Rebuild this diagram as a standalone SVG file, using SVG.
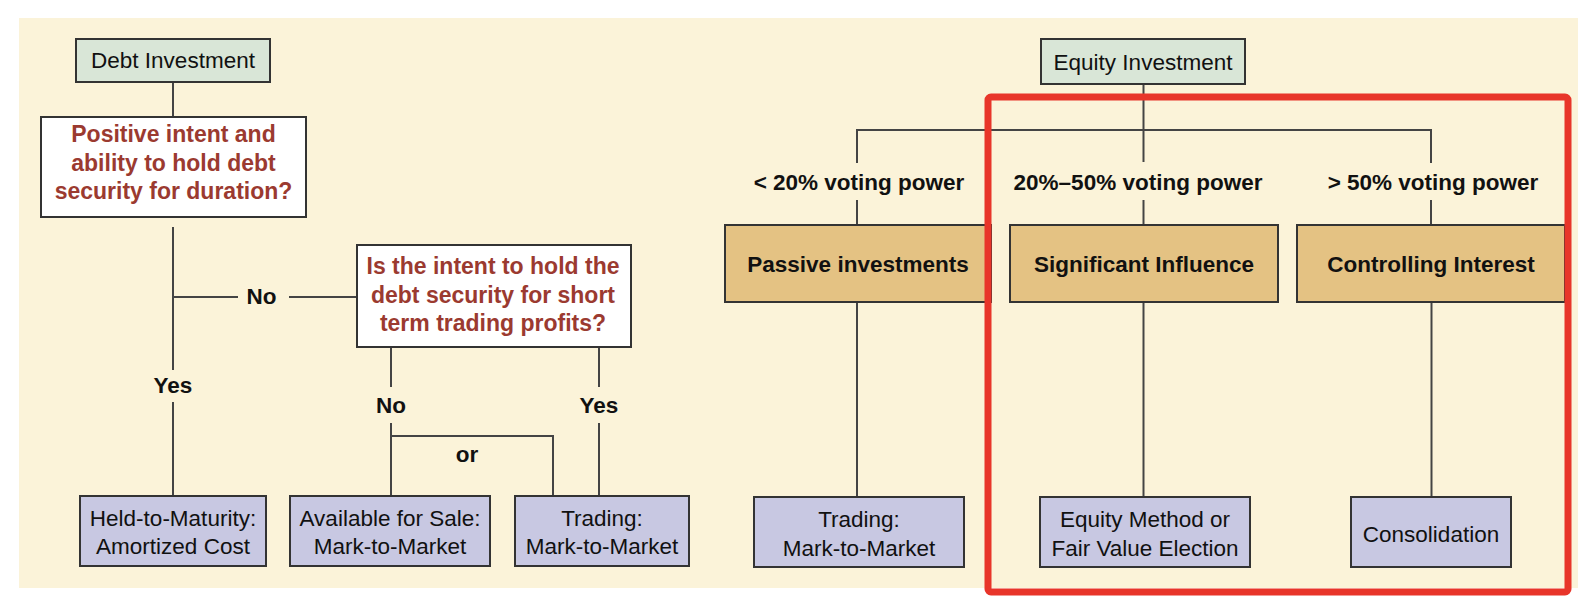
<svg xmlns="http://www.w3.org/2000/svg" width="1584" height="614" viewBox="0 0 1584 614">
<style>
.bg{fill:#fbf3d9}
.box{stroke:#333;stroke-width:2}
.green{fill:#d9e6d7}
.white{fill:#ffffff}
.lav{fill:#c8c8e2}
.tan{fill:#e4c283}
.t{font-family:"Liberation Sans",Arial,sans-serif;font-size:22.5px;fill:#111;text-anchor:middle}
.b{font-weight:bold}
.q{font-family:"Liberation Sans",Arial,sans-serif;font-size:23px;font-weight:bold;fill:#9b3a30;text-anchor:middle}
.ln{stroke:#444;stroke-width:2;fill:none}
</style>
<rect class="bg" x="19" y="18" width="1559" height="570"/>
<g id="connectors">
<line class="ln" x1="173" y1="82" x2="173" y2="117"/>
<line class="ln" x1="173" y1="227" x2="173" y2="370"/>
<line class="ln" x1="173" y1="402" x2="173" y2="496"/>
<line class="ln" x1="173" y1="297" x2="238" y2="297"/>
<line class="ln" x1="289" y1="297" x2="357" y2="297"/>
<line class="ln" x1="391" y1="347" x2="391" y2="387"/>
<line class="ln" x1="391" y1="423" x2="391" y2="496"/>
<line class="ln" x1="599" y1="347" x2="599" y2="387"/>
<line class="ln" x1="599" y1="423" x2="599" y2="496"/>
<polyline class="ln" stroke-width="2.5" points="391,436 553,436 553,496"/>
<line class="ln" x1="1143.5" y1="84" x2="1143.5" y2="162"/>
<polyline class="ln" points="857,163 857,130 1431,130 1431,163"/>
<line class="ln" x1="857" y1="200" x2="857" y2="225"/>
<line class="ln" x1="1143.5" y1="200" x2="1143.5" y2="225"/>
<line class="ln" x1="1431" y1="200" x2="1431" y2="225"/>
<line class="ln" x1="857" y1="302" x2="857" y2="497"/>
<line class="ln" x1="1143.5" y1="302" x2="1143.5" y2="497"/>
<line class="ln" x1="1431.5" y1="302" x2="1431.5" y2="497"/>
</g>
<g id="edge-labels">
<text class="t b" x="261.5" y="304">No</text>
<text class="t b" x="173" y="393">Yes</text>
<text class="t b" x="391" y="413">No</text>
<text class="t b" x="599" y="413">Yes</text>
<text class="t b" x="467" y="462">or</text>
<text class="t b" x="859" y="190">&lt; 20% voting power</text>
<text class="t b" x="1138" y="189.5">20%–50% voting power</text>
<text class="t b" x="1433" y="189.5">&gt; 50% voting power</text>
</g>
<g id="debt-investment">
<rect class="box green" x="76" y="39" width="194" height="43"/>
<text class="t" x="173" y="68">Debt Investment</text>
</g>
<g id="question-hold-duration">
<rect class="box white" x="41" y="117" width="265" height="100"/>
<text class="q" x="173.5" y="142">Positive intent and</text>
<text class="q" x="173.5" y="170.5">ability to hold debt</text>
<text class="q" x="173.5" y="199">security for duration?</text>
</g>
<g id="question-short-term">
<rect class="box white" x="357" y="245" width="274" height="102"/>
<text class="q" x="493" y="274">Is the intent to hold the</text>
<text class="q" x="493" y="302.5">debt security for short</text>
<text class="q" x="493" y="331">term trading profits?</text>
</g>
<g id="held-to-maturity">
<rect class="box lav" x="80" y="496" width="186" height="70"/>
<text class="t" x="173" y="526">Held-to-Maturity:</text>
<text class="t" x="173" y="554">Amortized Cost</text>
</g>
<g id="available-for-sale">
<rect class="box lav" x="290" y="496" width="200" height="70"/>
<text class="t" x="390" y="526">Available for Sale:</text>
<text class="t" x="390" y="554">Mark-to-Market</text>
</g>
<g id="trading-debt">
<rect class="box lav" x="515" y="496" width="174" height="70"/>
<text class="t" x="602" y="526">Trading:</text>
<text class="t" x="602" y="554">Mark-to-Market</text>
</g>
<g id="equity-investment">
<rect class="box green" x="1041" y="39" width="204" height="45"/>
<text class="t" x="1143" y="70">Equity Investment</text>
</g>
<g id="passive-investments">
<rect class="box tan" x="725" y="225" width="266" height="77"/>
<text class="t b" x="858" y="271.5">Passive investments</text>
</g>
<g id="significant-influence">
<rect class="box tan" x="1010" y="225" width="268" height="77"/>
<text class="t b" x="1144" y="271.5">Significant Influence</text>
</g>
<g id="controlling-interest">
<rect class="box tan" x="1297" y="225" width="268" height="77"/>
<text class="t b" x="1431" y="271.5">Controlling Interest</text>
</g>
<g id="trading-equity">
<rect class="box lav" x="754" y="497" width="210" height="70"/>
<text class="t" x="859" y="527">Trading:</text>
<text class="t" x="859" y="555.5">Mark-to-Market</text>
</g>
<g id="equity-method">
<rect class="box lav" x="1040" y="497" width="210" height="70"/>
<text class="t" x="1145" y="527">Equity Method or</text>
<text class="t" x="1145" y="555.5">Fair Value Election</text>
</g>
<g id="consolidation">
<rect class="box lav" x="1351" y="497" width="160" height="70"/>
<text class="t" x="1431" y="541.5">Consolidation</text>
</g>
<rect x="988" y="97" width="580" height="495" rx="3" fill="none" stroke="#e8352a" stroke-width="7"/>
</svg>
